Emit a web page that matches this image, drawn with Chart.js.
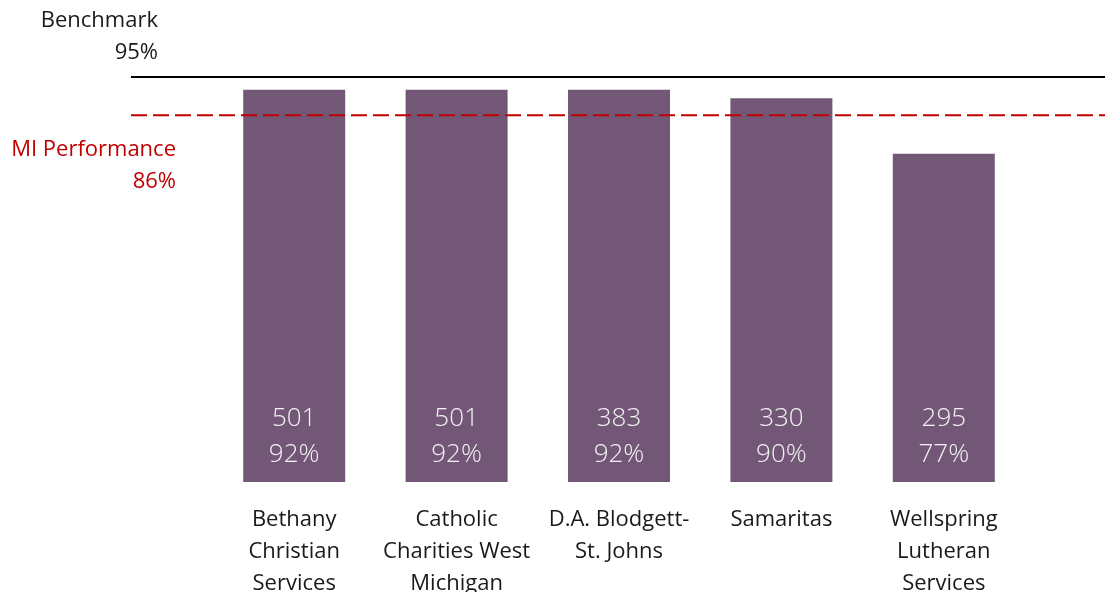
<!DOCTYPE html>
<html><head><meta charset="utf-8">
<script src="https://cdn.jsdelivr.net/npm/chart.js@4/dist/chart.umd.min.js"></script>
<style>html,body{margin:0;padding:0;background:#fff;}#wrap{width:1105px;height:592px;}</style>
</head><body><div id="wrap"><canvas id="c" width="1105" height="592"></canvas></div>
<script>
const categories = [["Bethany","Christian","Services"],["Catholic","Charities West","Michigan"],["D.A. Blodgett-","St. Johns"],["Samaritas"],["Wellspring","Lutheran","Services"]];
const percentValues = [92, 92, 92, 90, 77];
const counts = [501, 501, 383, 330, 295];
const benchmark = 95;
const miPerformance = 86;
const FONT = "'Open Sans', 'Noto Sans', sans-serif";

const overlay = {
  id: 'overlay',
  afterDatasetsDraw(chart) {
    const ctx = chart.ctx, y = chart.scales.y;
    const meta = chart.getDatasetMeta(0);
    ctx.save();
    ctx.fillStyle = '#F2F2F2';
    ctx.font = '300 26px ' + FONT;
    ctx.textAlign = 'center';
    ctx.textBaseline = 'middle';
    meta.data.forEach((bar, i) => {
      ctx.fillText(String(counts[i]), bar.x, bar.base - 63);
      ctx.fillText(percentValues[i] + '%', bar.x, bar.base - 27);
    });
    const yb = y.getPixelForValue(benchmark);
    ctx.strokeStyle = '#000';
    ctx.lineWidth = 2;
    ctx.beginPath(); ctx.moveTo(131, yb); ctx.lineTo(chart.width, yb); ctx.stroke();
    const ym = y.getPixelForValue(miPerformance);
    ctx.strokeStyle = '#C00000';
    ctx.setLineDash([16, 6]);
    ctx.beginPath(); ctx.moveTo(131, ym); ctx.lineTo(chart.width, ym); ctx.stroke();
    ctx.setLineDash([]);
    ctx.font = '22px ' + FONT;
    ctx.textAlign = 'right';
    ctx.fillStyle = '#1a1a1a';
    ctx.fillText('Benchmark', 158, yb - 56);
    ctx.fillText(benchmark + '%', 158, yb - 24);
    ctx.fillStyle = '#C00000';
    ctx.fillText('MI Performance', 176, ym + 34);
    ctx.fillText(miPerformance + '%', 176, ym + 66);
    ctx.restore();
  }
};

new Chart(document.getElementById('c'), {
  type: 'bar',
  data: {
    labels: categories,
    datasets: [{ data: percentValues, backgroundColor: '#735777', borderWidth: 0,
      categoryPercentage: 1, barPercentage: 0.628 }]
  },
  options: {
    responsive: false, animation: false,
    layout: { padding: { left: 213, right: 80, top: 13, bottom: 0 } },
    plugins: { legend: { display: false }, tooltip: { enabled: false } },
    scales: {
      x: {
        grid: { display: false, drawTicks: false }, border: { display: false },
        ticks: { color: '#1a1a1a', padding: 22, maxRotation: 0, autoSkip: false,
          font: { family: FONT, size: 22, lineHeight: 1.45 } },
        afterFit(scale) { scale.height = 110; }
      },
      y: { display: false, min: 0, max: 110 }
    }
  },
  plugins: [overlay]
});
</script></body></html>
